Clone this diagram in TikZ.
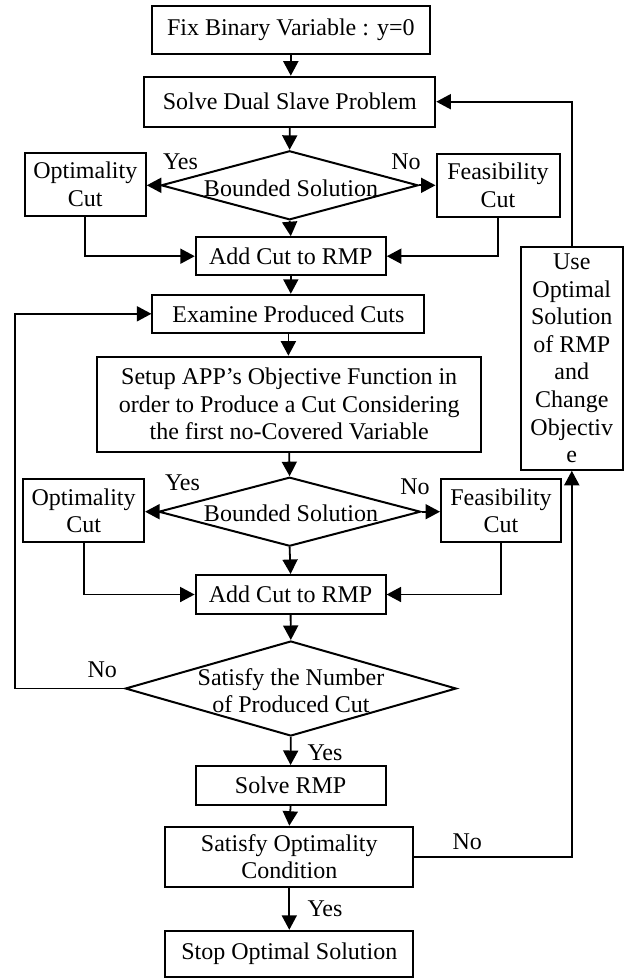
\documentclass[tikz,border=0pt]{standalone}
\usepackage{fontspec}
\setmainfont{Liberation Serif}
\usetikzlibrary{shapes.geometric,arrows.meta}
\begin{document}
\begin{tikzpicture}[x=1pt,y=-1pt,
  txt/.style={font=\fontsize{24}{27.6}\selectfont},
  box/.style={txt,draw,line width=2pt,rectangle,inner sep=0pt,align=center},
  dia/.style={draw,line width=2pt,diamond,inner sep=0pt},
  dtext/.style={txt,align=center,inner sep=0pt},
  lbl/.style={txt,inner sep=0pt},
  conn/.style={line width=1.8pt},
  arr/.style={conn,-{Triangle[length=14.5pt,width=15pt]}}
]
\useasboundingbox (0,0) rectangle (629,978);

% boxes
\node[box,minimum width=278pt,minimum height=48pt] (fix) at (290.8,30.2) {Fix Binary Variable : y=0};
\node[box,minimum width=291pt,minimum height=50pt] (dual) at (289.8,101.7) {Solve Dual Slave Problem};
\node[box,minimum width=121pt,minimum height=63pt] (opt1) at (85.3,184.5) {Optimality\\Cut};
\node[box,minimum width=123pt,minimum height=63pt] (feas1) at (498,185.3) {Feasibility\\Cut};
\node[box,minimum width=190pt,minimum height=38pt] (add1) at (290.8,256.2) {Add Cut to RMP};
\node[box,minimum width=272pt,minimum height=38pt] (exam) at (288.4,313.8) {Examine Produced Cuts};
\node[box,minimum width=384pt,minimum height=95pt] (setup) at (289.2,404.2) {Setup APP's Objective Function in\\order to Produce a Cut Considering\\the first no-Covered Variable};
\node[box,minimum width=102pt,minimum height=223pt] (use) at (571.8,358.3) {Use\\Optimal\\Solution\\of RMP\\and\\Change\\Objectiv\\e};
\node[box,minimum width=121pt,minimum height=63pt] (opt2) at (83.6,510.8) {Optimality\\Cut};
\node[box,minimum width=120pt,minimum height=63pt] (feas2) at (501,510.8) {Feasibility\\Cut};
\node[box,minimum width=190pt,minimum height=39pt] (add2) at (290.6,594.5) {Add Cut to RMP};
\node[box,minimum width=190pt,minimum height=39pt] (rmp) at (290.6,785.5) {Solve RMP};
\node[box,minimum width=248pt,minimum height=60pt] (satopt) at (289.3,856.7) {Satisfy Optimality\\Condition};
\node[box,minimum width=248pt,minimum height=46pt] (stop) at (289.3,953.8) {Stop Optimal Solution};

% diamonds
\node[dia,minimum width=257pt,minimum height=69pt] (d1) at (289.6,185.3) {};
\node[dtext] (d1t) at (291,188) {Bounded Solution};
\node[dia,minimum width=262pt,minimum height=69pt] (d2) at (289.6,511.7) {};
\node[dtext] (d2t) at (291,513.3) {Bounded Solution};
\node[dia,minimum width=331pt,minimum height=95pt] (d3) at (290.8,688.5) {};
\node[dtext] (d3t) at (291,690.5) {Satisfy the Number\\of Produced Cut};

% labels
\node[lbl] (y1) at (180.5,161.7) {Yes};
\node[lbl] (n1) at (406,162) {No};
\node[lbl] (y2) at (182.5,483) {Yes};
\node[lbl] (n2) at (415,487) {No};
\node[lbl] (n3) at (102.3,669.3) {No};
\node[lbl] (y3) at (325,752.7) {Yes};
\node[lbl] (n4) at (467.3,841.7) {No};
\node[lbl] (y4) at (325,908.3) {Yes};

% connectors
\draw[arr] (fix.south) -- (fix.south |- dual.north);
\draw[arr] (dual.south) -- (d1.north);
\draw[arr] (d1.west) -- (opt1.east |- d1.west);
\draw[arr] (d1.east) -- (feas1.west |- d1.east);
\draw[arr] (d1.south) -- (add1.north);
\draw[arr] (opt1.south) |- (add1.west);
\draw[arr] (feas1.south) |- (add1.east);
\draw[arr] (add1.south) -- (add1.south |- exam.north);
\draw[arr] (exam.south) -- (exam.south |- setup.north);
\draw[arr] (setup.south) -- (d2.north);
\draw[arr] (d2.west) -- (opt2.east |- d2.west);
\draw[arr] (d2.east) -- (feas2.west |- d2.east);
\draw[arr] (d2.south) -- (add2.north);
\draw[arr] (opt2.south) |- (add2.west);
\draw[arr] (feas2.south) |- (add2.east);
\draw[arr] (add2.south) -- (d3.north);
\coordinate (lp) at (15,688.5);
\draw[arr] (d3.west) -- (lp) |- (exam.west);
\draw[arr] (d3.south) -- (rmp.north);
\draw[arr] (rmp.south) -- (satopt.north);
\draw[arr] (satopt.east) -| (use.south);
\draw[arr] (use.north) |- (dual.east);
\draw[arr] (satopt.south) -- (stop.north);
\end{tikzpicture}
\end{document}
